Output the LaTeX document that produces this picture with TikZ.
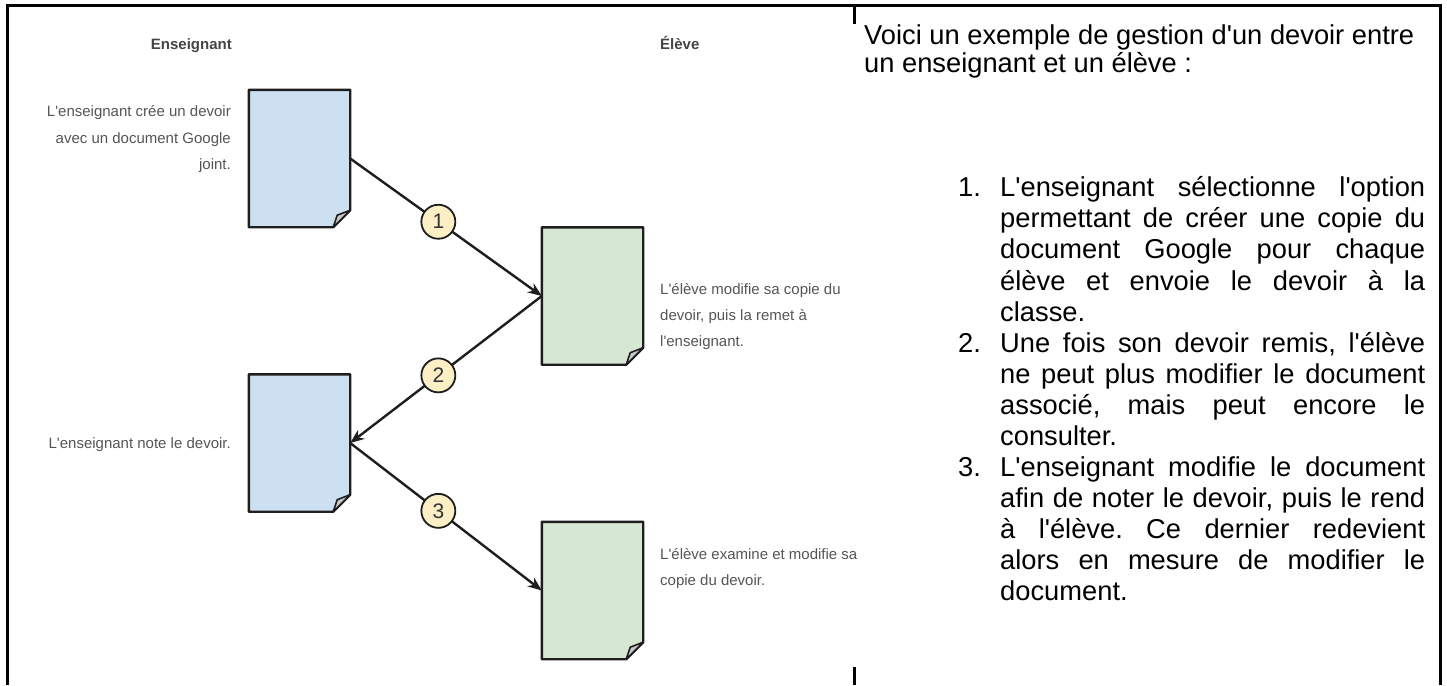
\documentclass[tikz,border=0pt]{standalone}
\usepackage{fontspec}
\setmainfont{Liberation Sans}
\newfontfamily\lsans{Liberation Sans}
\usetikzlibrary{arrows.meta}
\frenchspacing
\definecolor{docblue}{HTML}{CDE0F1}
\definecolor{docgreen}{HTML}{D6E8D2}
\definecolor{circfill}{HTML}{FCEFC5}
\definecolor{labgray}{HTML}{555555}
\definecolor{headgray}{HTML}{444444}
\definecolor{edgecol}{HTML}{1E1E1E}
\definecolor{flapcol}{HTML}{C4C8CC}
\tikzset{
  docbox/.style={rectangle, inner sep=0pt, minimum width=101pt, minimum height=137pt},
  docline/.style={draw=edgecol, line width=2.4pt, line join=round},
  flapline/.style={draw=edgecol, line width=1.6pt, line join=round, fill=flapcol},
  flow/.style={draw=edgecol, line width=2.4pt, -{Stealth[length=14pt,width=11pt]}},
  stepcirc/.style={circle, draw=edgecol, line width=1.8pt, fill=circfill, minimum size=34pt, inner sep=0pt, font=\lsans\fontsize{21pt}{21pt}\selectfont, text=black!80},
  frameline/.style={draw=black, line width=3pt},
  lab/.style={font=\lsans\fontsize{15pt}{18pt}\selectfont, text=labgray, inner sep=0pt},
  head/.style={font=\lsans\bfseries\fontsize{15pt}{18pt}\selectfont, text=headgray, inner sep=0pt},
  rtext/.style={font=\lsans\frenchspacing\fontsize{27.3pt}{31pt}\selectfont, text=black, inner sep=0pt, anchor=base west},
}
\newcommand\docpaper[3]{%
  \node[docbox] (#1) at (#2) {};
  \draw[docline, fill=#3] (#1.north west) -- (#1.north east) -- ([yshift=17pt]#1.south east) -- ([xshift=-17pt]#1.south east) -- (#1.south west) -- cycle;
  \draw[flapline] ([yshift=17pt]#1.south east) -- ([xshift=-13pt,yshift=12pt]#1.south east) -- ([xshift=-17pt]#1.south east) -- cycle;
}
\newcommand\jline[4]{\node[rtext] (#1) at (#2,#3) {\makebox[425pt][s]{#4}};}
\newcommand\lline[4]{\node[rtext] (#1) at (#2,#3) {#4};}
\begin{document}
\begin{tikzpicture}[x=1pt,y=-1pt]
\useasboundingbox (0,0) rectangle (1447,685);
% frame
\coordinate (fbl) at (7.5,685);
\coordinate (ftl) at (7.5,5.5);
\coordinate (ftr) at (1440,5.5);
\coordinate (fbr) at (1440,685);
\draw[frameline] (fbl) -- (ftl) -- (ftr) -- (fbr);
\coordinate (tt1) at (854,5.5); \coordinate (tt2) at (854,24);
\coordinate (tb1) at (854,667); \coordinate (tb2) at (854,685);
\draw[frameline] (tt1) -- (tt2);
\draw[frameline] (tb1) -- (tb2);

% headers
\node[head, anchor=base east] (hens) at (232,50) {Enseignant};
\node[head, anchor=base west] (helv) at (660,50) {Élève};

% documents
\docpaper{d1}{299.5,158.5}{docblue}
\docpaper{g1}{592.5,296}{docgreen}
\docpaper{d2}{299.5,443}{docblue}
\docpaper{g2}{592.5,590.5}{docgreen}

% flows
\draw[flow] (d1.east) -- node[stepcirc, pos=0.46] (c1) {1} (g1.west);
\draw[flow] (g1.west) -- node[stepcirc, pos=0.54] (c2) {2} (d2.east);
\draw[flow] (d2.east) -- node[stepcirc, pos=0.46] (c3) {3} (g2.west);

% left labels
\node[lab, anchor=base east] (t1a) at (231,116) {L'enseignant crée un devoir};
\node[lab, anchor=base east] (t1b) at (231,143) {avec un document Google};
\node[lab, anchor=base east] (t1c) at (231,169) {joint.};
\node[lab, anchor=base west] (t2a) at (660,294) {L'élève modifie sa copie du};
\node[lab, anchor=base west] (t2b) at (660,320) {devoir, puis la remet à};
\node[lab, anchor=base west] (t2c) at (660,346) {l'enseignant.};
\node[lab, anchor=base east] (t3a) at (231,448) {L'enseignant note le devoir.};
\node[lab, anchor=base west] (t4a) at (660,559) {L'élève examine et modifie sa};
\node[lab, anchor=base west] (t4b) at (660,585) {copie du devoir.};

% right panel
\lline{r0}{864}{45}{Voici un exemple de gestion d'un devoir entre}
\lline{r00}{864}{72}{un enseignant et un élève :}
\lline{n1}{958}{196}{1.}
\lline{n2}{958}{352}{2.}
\lline{n3}{958}{476}{3.}
\jline{r1}{1000}{196}{L'enseignant sélectionne l'option}
\jline{r2}{1000}{227}{permettant de créer une copie du}
\jline{r3}{1000}{258}{document Google pour chaque}
\jline{r4}{1000}{290}{élève et envoie le devoir à la}
\lline{r5}{1000}{321}{classe.}
\jline{r6}{1000}{352}{Une fois son devoir remis, l'élève}
\jline{r7}{1000}{383}{ne peut plus modifier le document}
\jline{r8}{1000}{414}{associé, mais peut encore le}
\lline{r9}{1000}{445}{consulter.}
\jline{r10}{1000}{476}{L'enseignant modifie le document}
\jline{r11}{1000}{507}{afin de noter le devoir, puis le rend}
\jline{r12}{1000}{538}{à l'élève. Ce dernier redevient}
\jline{r13}{1000}{569}{alors en mesure de modifier le}
\lline{r14}{1000}{600}{document.}
\end{tikzpicture}
\end{document}
